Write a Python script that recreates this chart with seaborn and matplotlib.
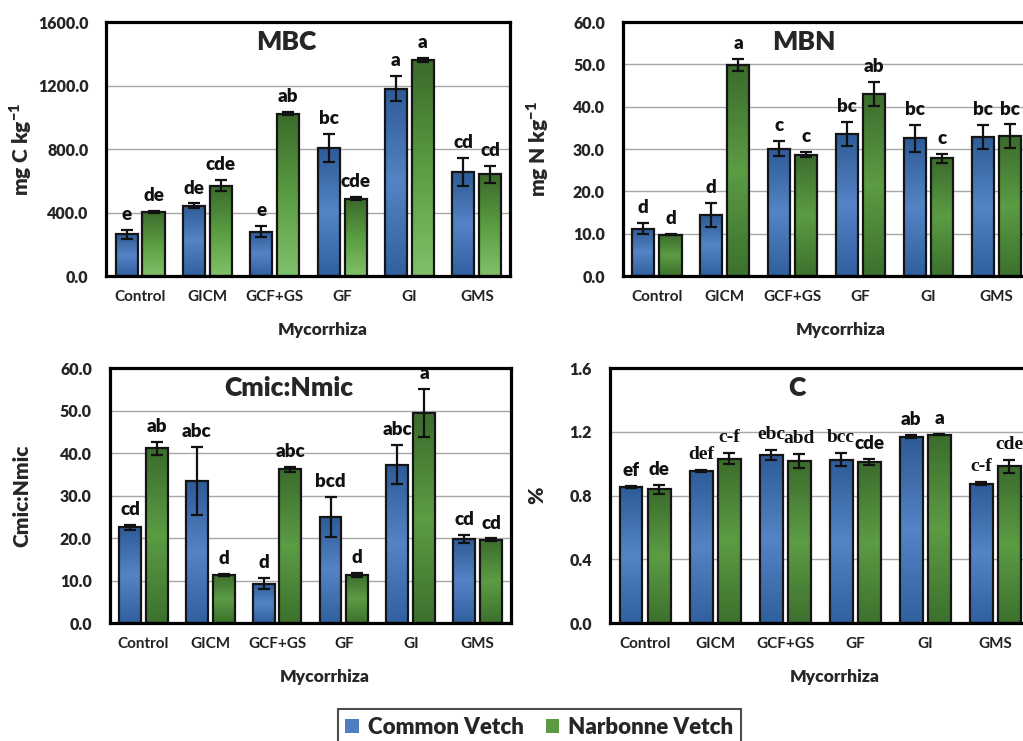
import numpy as np
import pandas as pd
import matplotlib
matplotlib.use("Agg")
import matplotlib.pyplot as plt
from matplotlib.colors import LinearSegmentedColormap
from matplotlib.patches import Patch
import seaborn as sns

# ---- data ----
treatments = ["Control", "GICM", "GCF+GS", "GF", "GI", "GMS"]
species = ["Common Vetch", "Narbonne Vetch"]

mbc_cv = [262, 442, 279, 806, 1181, 655]
mbc_nv = [404, 568, 1022, 488, 1361, 641]
mbc_cv_err = [28, 15, 35, 88, 80, 88]
mbc_nv_err = [8, 35, 10, 8, 15, 55]
mbc_cv_let = ["e", "de", "e", "bc", "a", "cd"]
mbc_nv_let = ["de", "cde", "ab", "cde", "a", "cd"]

mbn_cv = [11.2, 14.4, 30.1, 33.6, 32.5, 32.9]
mbn_nv = [9.8, 49.8, 28.7, 43.0, 27.8, 33.0]
mbn_cv_err = [1.3, 2.9, 1.7, 2.8, 3.2, 2.8]
mbn_nv_err = [0.1, 1.4, 0.5, 2.9, 1.1, 2.8]
mbn_cv_let = ["d", "d", "c", "bc", "bc", "bc"]
mbn_nv_let = ["d", "a", "c", "ab", "c", "bc"]

cn_cv = [22.5, 33.4, 9.3, 24.9, 37.3, 19.8]
cn_nv = [41.1, 11.3, 36.2, 11.3, 49.4, 19.6]
cn_cv_err = [0.5, 8.0, 1.4, 4.7, 4.7, 1.0]
cn_nv_err = [1.5, 0.3, 0.6, 0.4, 5.6, 0.3]
cn_cv_let = ["cd", "abc", "d", "bcd", "abc", "cd"]
cn_nv_let = ["ab", "d", "abc", "d", "a", "cd"]

c_cv = [0.854, 0.955, 1.055, 1.026, 1.168, 0.875]
c_nv = [0.838, 1.032, 1.014, 1.009, 1.183, 0.984]
c_cv_err = [0.005, 0.005, 0.03, 0.04, 0.01, 0.008]
c_nv_err = [0.03, 0.033, 0.044, 0.02, 0.005, 0.04]
c_cv_let = ["ef", "def", "ebc", "bcc", "ab", "c-f"]
c_nv_let = ["de", "c-f", "abd", "cde", "a", "cde"]

# ---- style ----
sns.set_style("white")
plt.rcParams["font.family"] = ["Lato", "DejaVu Sans"]
plt.rcParams["mathtext.fontset"] = "custom"
plt.rcParams["mathtext.bf"] = "Lato:heavy"

blue_cmap = LinearSegmentedColormap.from_list("b", ["#30609F", "#5484C5", "#2E5B98"])
green_fade = LinearSegmentedColormap.from_list("g1", ["#80C06A", "#5A9C42", "#3A6A2A"])
green_cmap = LinearSegmentedColormap.from_list("g2", ["#3C712D", "#5C9C44", "#3B6C2C"])
palette = {"Common Vetch": "#4F7FC0", "Narbonne Vetch": "#5A9A43"}
SANS = ["Lato", "DejaVu Sans"]
SERIF = ["Liberation Serif", "DejaVu Serif"]


def make_df(cv, nv):
    return pd.DataFrame({
        "Mycorrhiza": treatments * 2,
        "Species": [species[0]] * 6 + [species[1]] * 6,
        "value": list(cv) + list(nv),
    })


def shade_bars(ax, cmaps):
    xl, yl = ax.get_xlim(), ax.get_ylim()
    grad = np.linspace(0, 1, 200).reshape(-1, 1)
    for cont, cmap in zip(ax.containers, cmaps):
        for bar in cont:
            x, y = bar.get_x(), bar.get_y()
            w, h = bar.get_width(), bar.get_height()
            im = ax.imshow(grad, extent=[x, x + w, y, y + h], origin="lower",
                           aspect="auto", cmap=cmap, zorder=1.5)
            im.set_clip_path(bar)
            bar.set_facecolor("none")
            bar.set_zorder(2)
    ax.set_xlim(xl)
    ax.set_ylim(yl)
    ax.set_aspect("auto")


def panel(ax, cv, nv, cv_err, nv_err, cv_let, nv_let, ymax, step,
          title, ylabel, green, ylab_x, serif_idx=()):
    df = make_df(cv, nv)
    sns.barplot(data=df, x="Mycorrhiza", y="value", hue="Species",
                order=treatments, hue_order=species, palette=palette,
                width=0.8, gap=0.18, edgecolor="#151515", linewidth=1.6,
                errorbar=None, legend=False, ax=ax)
    ax.set_ylim(0, ymax)
    ax.set_yticks(np.arange(0, ymax + step / 2, step))
    ax.set_yticklabels([f"{t:.1f}" for t in ax.get_yticks()])
    shade_bars(ax, [blue_cmap, green])

    k = 0
    for cont, err, let in zip(ax.containers, [cv_err, nv_err], [cv_let, nv_let]):
        xs = [b.get_x() + b.get_width() / 2 for b in cont]
        ys = [b.get_height() for b in cont]
        ax.errorbar(xs, ys, yerr=err, fmt="none", ecolor="#111111",
                    elinewidth=1.6, capsize=4.5, capthick=1.6, zorder=3)
        for x, y, e, t in zip(xs, ys, err, let):
            serif = k in serif_idx
            ax.annotate(t, (x, y + e), xytext=(0, 5), textcoords="offset points",
                        ha="center", va="bottom", fontsize=14 if serif else 13.5,
                        fontweight="bold" if serif else "heavy",
                        family=SERIF if serif else SANS, color="#111111", zorder=4)
            k += 1

    ax.yaxis.grid(True, color="#A8A8A8", linewidth=1.0)
    ax.set_axisbelow(True)
    for s in ax.spines.values():
        s.set_visible(True)
        s.set_color("black")
        s.set_linewidth(2.3)
    ax.tick_params(axis="y", length=0, pad=13, labelsize=11.5)
    ax.tick_params(axis="x", length=0, pad=10, labelsize=11, labelcolor="#222222")
    for lab in ax.get_yticklabels():
        lab.set_fontweight("heavy")
    for lab in ax.get_xticklabels():
        lab.set_fontweight("bold")
    ax.set_xlabel("Mycorrhiza", fontsize=12.5, fontweight="heavy")
    ax.xaxis.set_label_coords(0.535, -0.18)
    ax.set_ylabel(ylabel, fontsize=15, fontweight="heavy")
    ax.yaxis.set_label_coords(ylab_x, 0.5)
    ax.text(0.445, 0.92, title, transform=ax.transAxes, ha="center", va="center",
            fontsize=19, fontweight="heavy", zorder=5)


fig = plt.figure(figsize=(10.23, 7.41), dpi=100)
fig.patch.set_facecolor("white")

ax1 = fig.add_axes([0.1040, 0.6275, 0.3950, 0.3428])
ax2 = fig.add_axes([0.6090, 0.6275, 0.3980, 0.3428])
ax3 = fig.add_axes([0.1075, 0.1592, 0.3920, 0.3441])
ax4 = fig.add_axes([0.5963, 0.1592, 0.4106, 0.3441])

panel(ax1, mbc_cv, mbc_nv, mbc_cv_err, mbc_nv_err, mbc_cv_let, mbc_nv_let,
      1600, 400, "MBC", "mg C kg$^{\\mathbf{-1}}$", green_fade, -0.18)
panel(ax2, mbn_cv, mbn_nv, mbn_cv_err, mbn_nv_err, mbn_cv_let, mbn_nv_let,
      60, 10, "MBN", "mg N kg$^{\\mathbf{-1}}$", green_cmap, -0.178)
panel(ax3, cn_cv, cn_nv, cn_cv_err, cn_nv_err, cn_cv_let, cn_nv_let,
      60, 10, "Cmic:Nmic", "Cmic:Nmic", green_cmap, -0.195)
panel(ax4, c_cv, c_nv, c_cv_err, c_nv_err, c_cv_let, c_nv_let,
      1.6, 0.4, "C", "%", green_cmap, -0.152,
      serif_idx=(1, 2, 3, 5, 7, 8, 11))

handles = [Patch(facecolor=palette[s], edgecolor="none") for s in species]
leg = fig.legend(handles, species, loc="upper center", bbox_to_anchor=(0.527, 0.058),
                 ncol=2, frameon=True, fancybox=False, edgecolor="#222222",
                 prop={"weight": "heavy", "size": 16, "family": SANS},
                 handlelength=0.6, handleheight=0.6, handletextpad=0.4,
                 columnspacing=1.0, borderpad=0.35)
leg.get_frame().set_linewidth(1.5)

fig.savefig("out.png", dpi=100, facecolor="white")
